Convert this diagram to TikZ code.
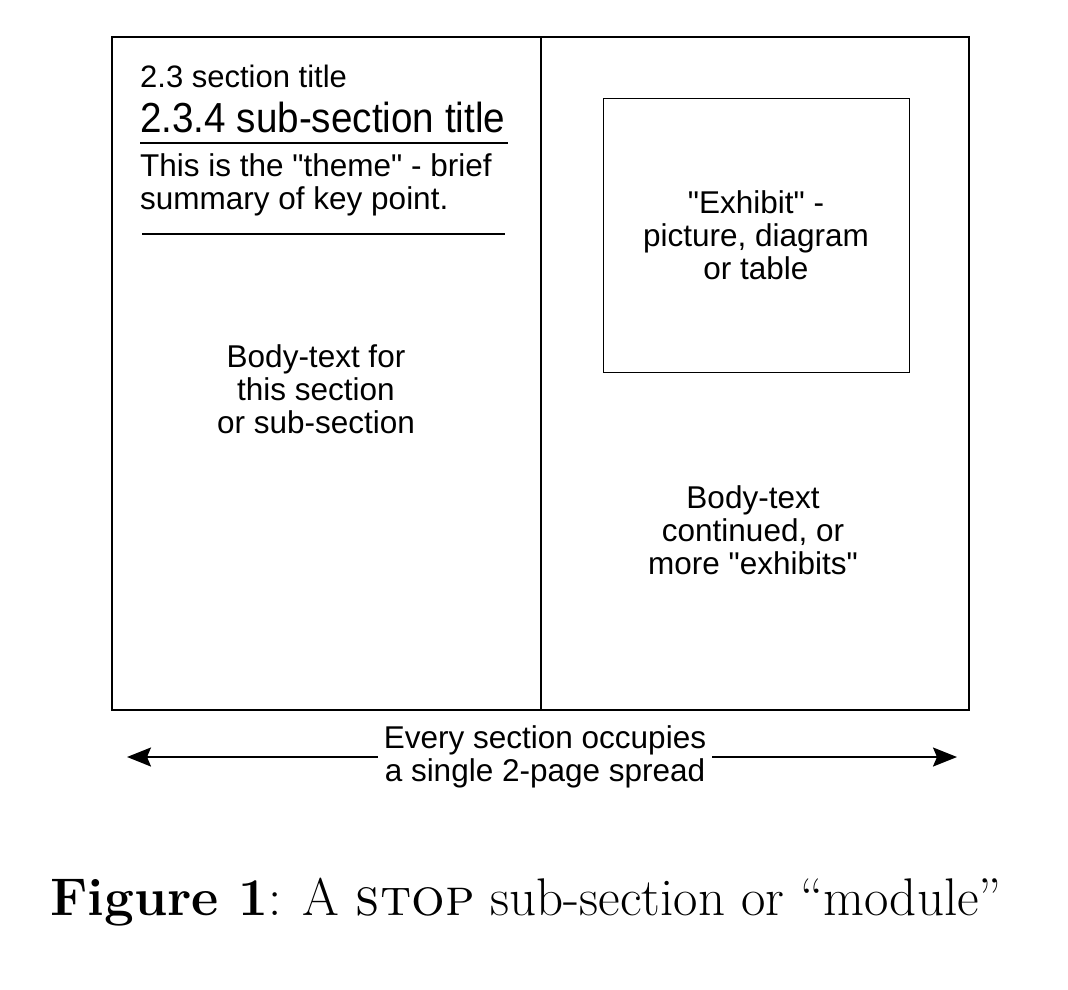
\documentclass[tikz,border=0pt]{standalone}
\usepackage{fontspec}
\newfontfamily\narrowsf{Liberation Sans}
\newfontfamily\titlesf[FakeStretch=0.92]{Liberation Sans}
\usetikzlibrary{positioning,arrows.meta}

\tikzset{pageline/.style={draw,line width=2pt}}
\tikzset{exhibitbox/.style={draw,line width=1pt}}
\tikzset{blurb/.style={align=center,inner sep=0pt,font=\narrowsf\fontsize{31.5}{33}\selectfont}}
\tikzset{heading/.style={anchor=west,inner sep=0pt}}

\begin{document}
\begin{tikzpicture}[x=1pt,y=-1pt,>={Stealth[length=24pt,width=19pt,inset=4pt]}]
  \useasboundingbox (0,0) rectangle (1068,990);

  % the two pages of the spread
  \draw[pageline] (112,37) rectangle (969,710);
  \draw[pageline] (541,37) -- (541,710);

  % left page
  \node[heading,font=\narrowsf\fontsize{31}{33}\selectfont] (sec) at (140,76) {2.3 section title};
  \node[heading,font=\titlesf\fontsize{42}{45}\selectfont] (subsec) at (140,117) {2.3.4 sub-section title};
  \draw[line width=1.5pt] (140,143) -- (508,143);
  \node[heading,blurb,align=left] (theme) at (140,185) {This is the "theme" - brief\\summary of key point.};
  \draw[line width=1.5pt] (142,234) -- (505,234);
  \node[blurb] (bodyL) at (316,389) {Body-text for\\this section\\or sub-section};

  % right page
  \node[exhibitbox,minimum width=306pt,minimum height=274pt] (exhibit) at (756,235) {};
  \node[blurb] (exhibittext) at (exhibit.center) {"Exhibit" -\\picture, diagram\\or table};
  \node[blurb] (bodyR) at (753,530) {Body-text\\continued, or\\more "exhibits"};

  % arrow under the spread
  \coordinate (arrowL) at (127,757);
  \coordinate (arrowR) at (957,757);
  \node[blurb,inner xsep=6pt] (spread) at (545,757) {Every section occupies\\a single 2-page spread};
  \draw[->,line width=2pt] (spread.west) -- (arrowL);
  \draw[->,line width=2pt] (spread.east) -- (arrowR);

  % caption
  \node[font=\fontsize{53}{60}\selectfont,inner sep=0pt] (caption) at (526,902) {\textbf{Figure 1}: A \textsc{stop} sub-section or ``module''};
\end{tikzpicture}
\end{document}
